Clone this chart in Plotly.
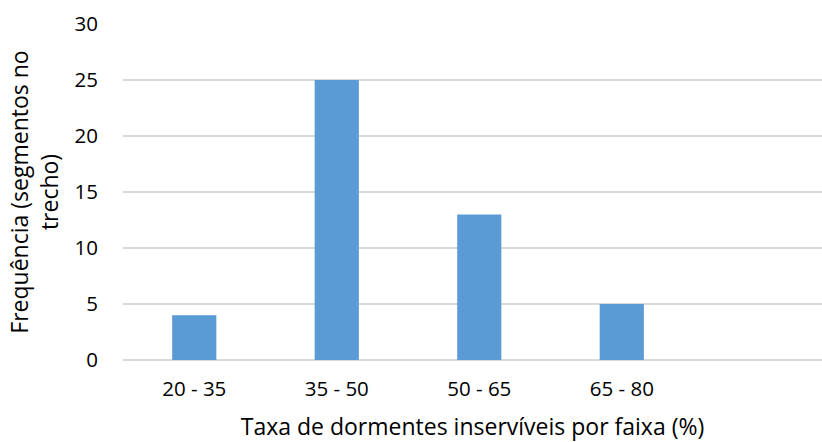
import plotly.graph_objects as go

# Frequency of track segments by rate of unserviceable sleepers
categories = ["20 - 35", "35 - 50", "50 - 65", "65 - 80"]
frequency = [4, 25, 13, 5]
y_ticks = [0, 5, 10, 15, 20, 25, 30]

positions = list(range(len(categories)))
font_family = "'Open Sans', Lato, sans-serif"

fig = go.Figure(
    go.Bar(
        x=positions,
        y=frequency,
        marker=dict(color="#5B9BD5", line=dict(width=0)),
        width=0.31,
    )
)

fig.update_layout(
    width=822,
    height=442,
    margin=dict(l=123, r=0, t=24, b=82),
    paper_bgcolor="white",
    plot_bgcolor="white",
    showlegend=False,
    font=dict(family=font_family, color="#000000", size=20.5),
)

fig.update_xaxes(
    range=[-0.5, 4.405],
    tickmode="array",
    tickvals=positions,
    ticktext=categories,
    showgrid=False,
    zeroline=False,
    showline=False,
    ticks="outside",
    ticklen=10,
    tickcolor="rgba(0,0,0,0)",
    tickfont=dict(size=20.5),
    title=dict(text="Taxa de dormentes inservíveis por faixa (%)", font=dict(size=23), standoff=23),
)

fig.update_yaxes(
    range=[0, 30],
    tickmode="array",
    tickvals=y_ticks,
    showgrid=True,
    gridcolor="#D9D9D9",
    gridwidth=1.5,
    zeroline=True,
    zerolinecolor="#D9D9D9",
    zerolinewidth=1.5,
    showline=False,
    ticks="outside",
    ticklen=20,
    tickcolor="rgba(0,0,0,0)",
    tickfont=dict(size=20.5),
    title=dict(text="Frequência (segmentos no<br>trecho)", font=dict(size=23), standoff=9),
)

fig.write_html("out.html")
